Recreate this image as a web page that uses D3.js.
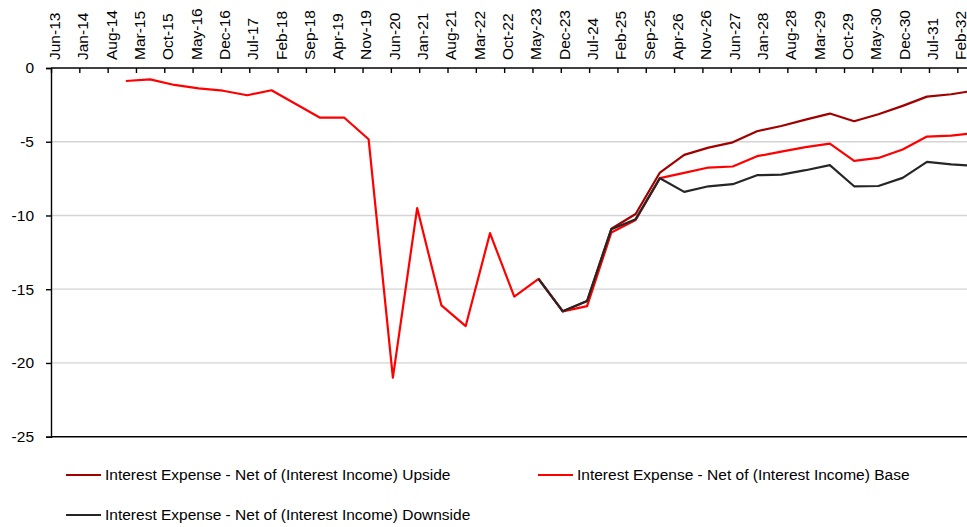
<!DOCTYPE html>
<html lang="en">
<head>
<meta charset="utf-8">
<title>Interest Expense - Net of (Interest Income)</title>
<script src="https://cdn.jsdelivr.net/npm/d3@7"></script>
<style>
  body { margin: 0; background: #fff; }
  text { font-family: "Liberation Sans", Arial, sans-serif; fill: #000; }
  .grid line { stroke: #d4d4d4; stroke-width: 1.3px; }
  .series { fill: none; stroke-width: 2.2px; stroke-linejoin: round; }
</style>
</head>
<body>
<div id="chart"></div>
<script>
// semiannual periods, first one is Dec-14
var periods = ["Dec-14","Jun-15","Dec-15","Jun-16","Dec-16","Jun-17","Dec-17","Jun-18","Dec-18","Jun-19",
               "Dec-19","Jun-20","Dec-20","Jun-21","Dec-21","Jun-22","Dec-22","Jun-23","Dec-23","Jun-24",
               "Dec-24","Jun-25","Dec-25","Jun-26","Dec-26","Jun-27","Dec-27","Jun-28","Dec-28","Jun-29",
               "Dec-29","Jun-30","Dec-30","Jun-31","Dec-31","Jun-32"];

var upside = [null,null,null,null,null,null,null,null,null,null,
              null,null,null,null,null,null,null,-14.3,-16.5,-15.8,
              -10.9,-9.9,-7.09,-5.89,-5.4,-5.04,-4.29,-3.93,-3.5,-3.09,
              -3.61,-3.14,-2.57,-1.94,-1.78,-1.52];

var base = [-0.88,-0.77,-1.15,-1.38,-1.54,-1.85,-1.51,-2.44,-3.37,-3.37,
            -4.83,-21.0,-9.5,-16.1,-17.5,-11.2,-15.5,-14.3,-16.5,-16.15,
            -11.15,-10.3,-7.47,-7.11,-6.75,-6.68,-5.98,-5.67,-5.37,-5.13,
            -6.3,-6.1,-5.53,-4.65,-4.58,-4.4];

var downside = [null,null,null,null,null,null,null,null,null,null,
                null,null,null,null,null,null,null,-14.3,-16.5,-15.8,
                -10.93,-10.25,-7.47,-8.4,-8.02,-7.88,-7.27,-7.23,-6.93,-6.59,
                -8.02,-8.0,-7.45,-6.37,-6.53,-6.64];

var tickLabels = ["Jun-13","Jan-14","Aug-14","Mar-15","Oct-15","May-16","Dec-16","Jul-17","Feb-18","Sep-18",
                  "Apr-19","Nov-19","Jun-20","Jan-21","Aug-21","Mar-22","Oct-22","May-23","Dec-23","Jul-24",
                  "Feb-25","Sep-25","Apr-26","Nov-26","Jun-27","Jan-28","Aug-28","Mar-29","Oct-29","May-30",
                  "Dec-30","Jul-31","Feb-32"];

var yTicks = [0, -5, -10, -15, -20, -25];

var seriesNames = ["Interest Expense - Net of (Interest Income) Upside",
                   "Interest Expense - Net of (Interest Income) Base",
                   "Interest Expense - Net of (Interest Income) Downside"];
var colors = ["#a00000", "#ff0000", "#262626"];

var width = 967, height = 527;
var months = {Jan:0,Feb:1,Mar:2,Apr:3,May:4,Jun:5,Jul:6,Aug:7,Sep:8,Oct:9,Nov:10,Dec:11};
// month index counted from Jun-13
function monthIndex(s) {
  var p = s.split("-");
  return (2000 + (+p[1]) - 2013) * 12 + months[p[0]] - 5;
}

var x = d3.scaleLinear().domain([0, 224]).range([51, 957.3]);
var y = d3.scaleLinear().domain([-25, 0]).range([436.7, 68]);

var svg = d3.select("#chart").append("svg")
    .attr("width", width)
    .attr("height", height);

// gridlines
svg.append("g").attr("class", "grid")
  .selectAll("line")
  .data(yTicks.filter(function(d) { return d < 0 && d > -25; }))
  .join("line")
    .attr("x1", x(0)).attr("x2", width)
    .attr("y1", function(d) { return y(d); })
    .attr("y2", function(d) { return y(d); });

// bottom border
svg.append("line")
    .attr("x1", x(0)).attr("x2", width)
    .attr("y1", y(-25)).attr("y2", y(-25))
    .attr("stroke", "#000").attr("stroke-width", 1.4);

// y axis (plain hyphen for the minus sign, like the original)
var yAxis = svg.append("g")
    .attr("transform", "translate(" + x(0) + ",0)")
    .call(d3.axisLeft(y).tickValues(yTicks).tickSize(5).tickPadding(12).tickFormat(function(d) { return String(d); }));
yAxis.selectAll("text").style("font-size", "15.5px").style("font-family", "Liberation Sans, Arial, sans-serif");
yAxis.selectAll("line, path").attr("stroke", "#000").attr("stroke-width", 1.4);

// x axis at zero, ticks hang down, labels rotated above
var xAxis = svg.append("g")
    .attr("transform", "translate(0," + y(0) + ")")
    .call(d3.axisTop(x)
      .tickValues(tickLabels.map(function(d, i) { return i * 7; }))
      .tickSize(-5)
      .tickPadding(8)
      .tickFormat(function(d) { return tickLabels[d / 7]; }));
xAxis.select(".domain").attr("d", "M" + x(0) + ",0H" + width);
xAxis.selectAll("line, path").attr("stroke", "#000").attr("stroke-width", 1.4);
xAxis.selectAll("text")
    .style("font-size", "15.5px")
    .style("font-family", "Liberation Sans, Arial, sans-serif")
    .attr("text-anchor", "start")
    .attr("dy", "0.35em")
    .attr("transform", "rotate(-90)")
    .attr("x", 8).attr("y", 3);

// lines
var line = d3.line()
    .defined(function(d) { return d.v != null; })
    .x(function(d) { return x(monthIndex(d.p) + 0.5); })
    .y(function(d) { return y(d.v); });

[upside, base, downside].forEach(function(vals, k) {
  var pts = periods.map(function(p, i) { return {p: p, v: vals[i]}; });
  svg.append("path")
      .attr("class", "series")
      .attr("stroke", colors[k])
      .attr("d", line(pts));
});

// legend
var legendPos = [[66, 475], [538, 475], [66, 515]];
var legend = svg.append("g").selectAll("g")
  .data(seriesNames)
  .join("g")
    .attr("transform", function(d, i) { return "translate(" + legendPos[i][0] + "," + legendPos[i][1] + ")"; });
legend.append("line")
    .attr("x1", 0).attr("x2", 35)
    .attr("stroke", function(d, i) { return colors[i]; })
    .attr("stroke-width", 2.2);
legend.append("text")
    .attr("x", 39)
    .attr("dy", "0.35em")
    .style("font-size", "15.5px")
    .text(function(d) { return d; });
</script>
</body>
</html>
